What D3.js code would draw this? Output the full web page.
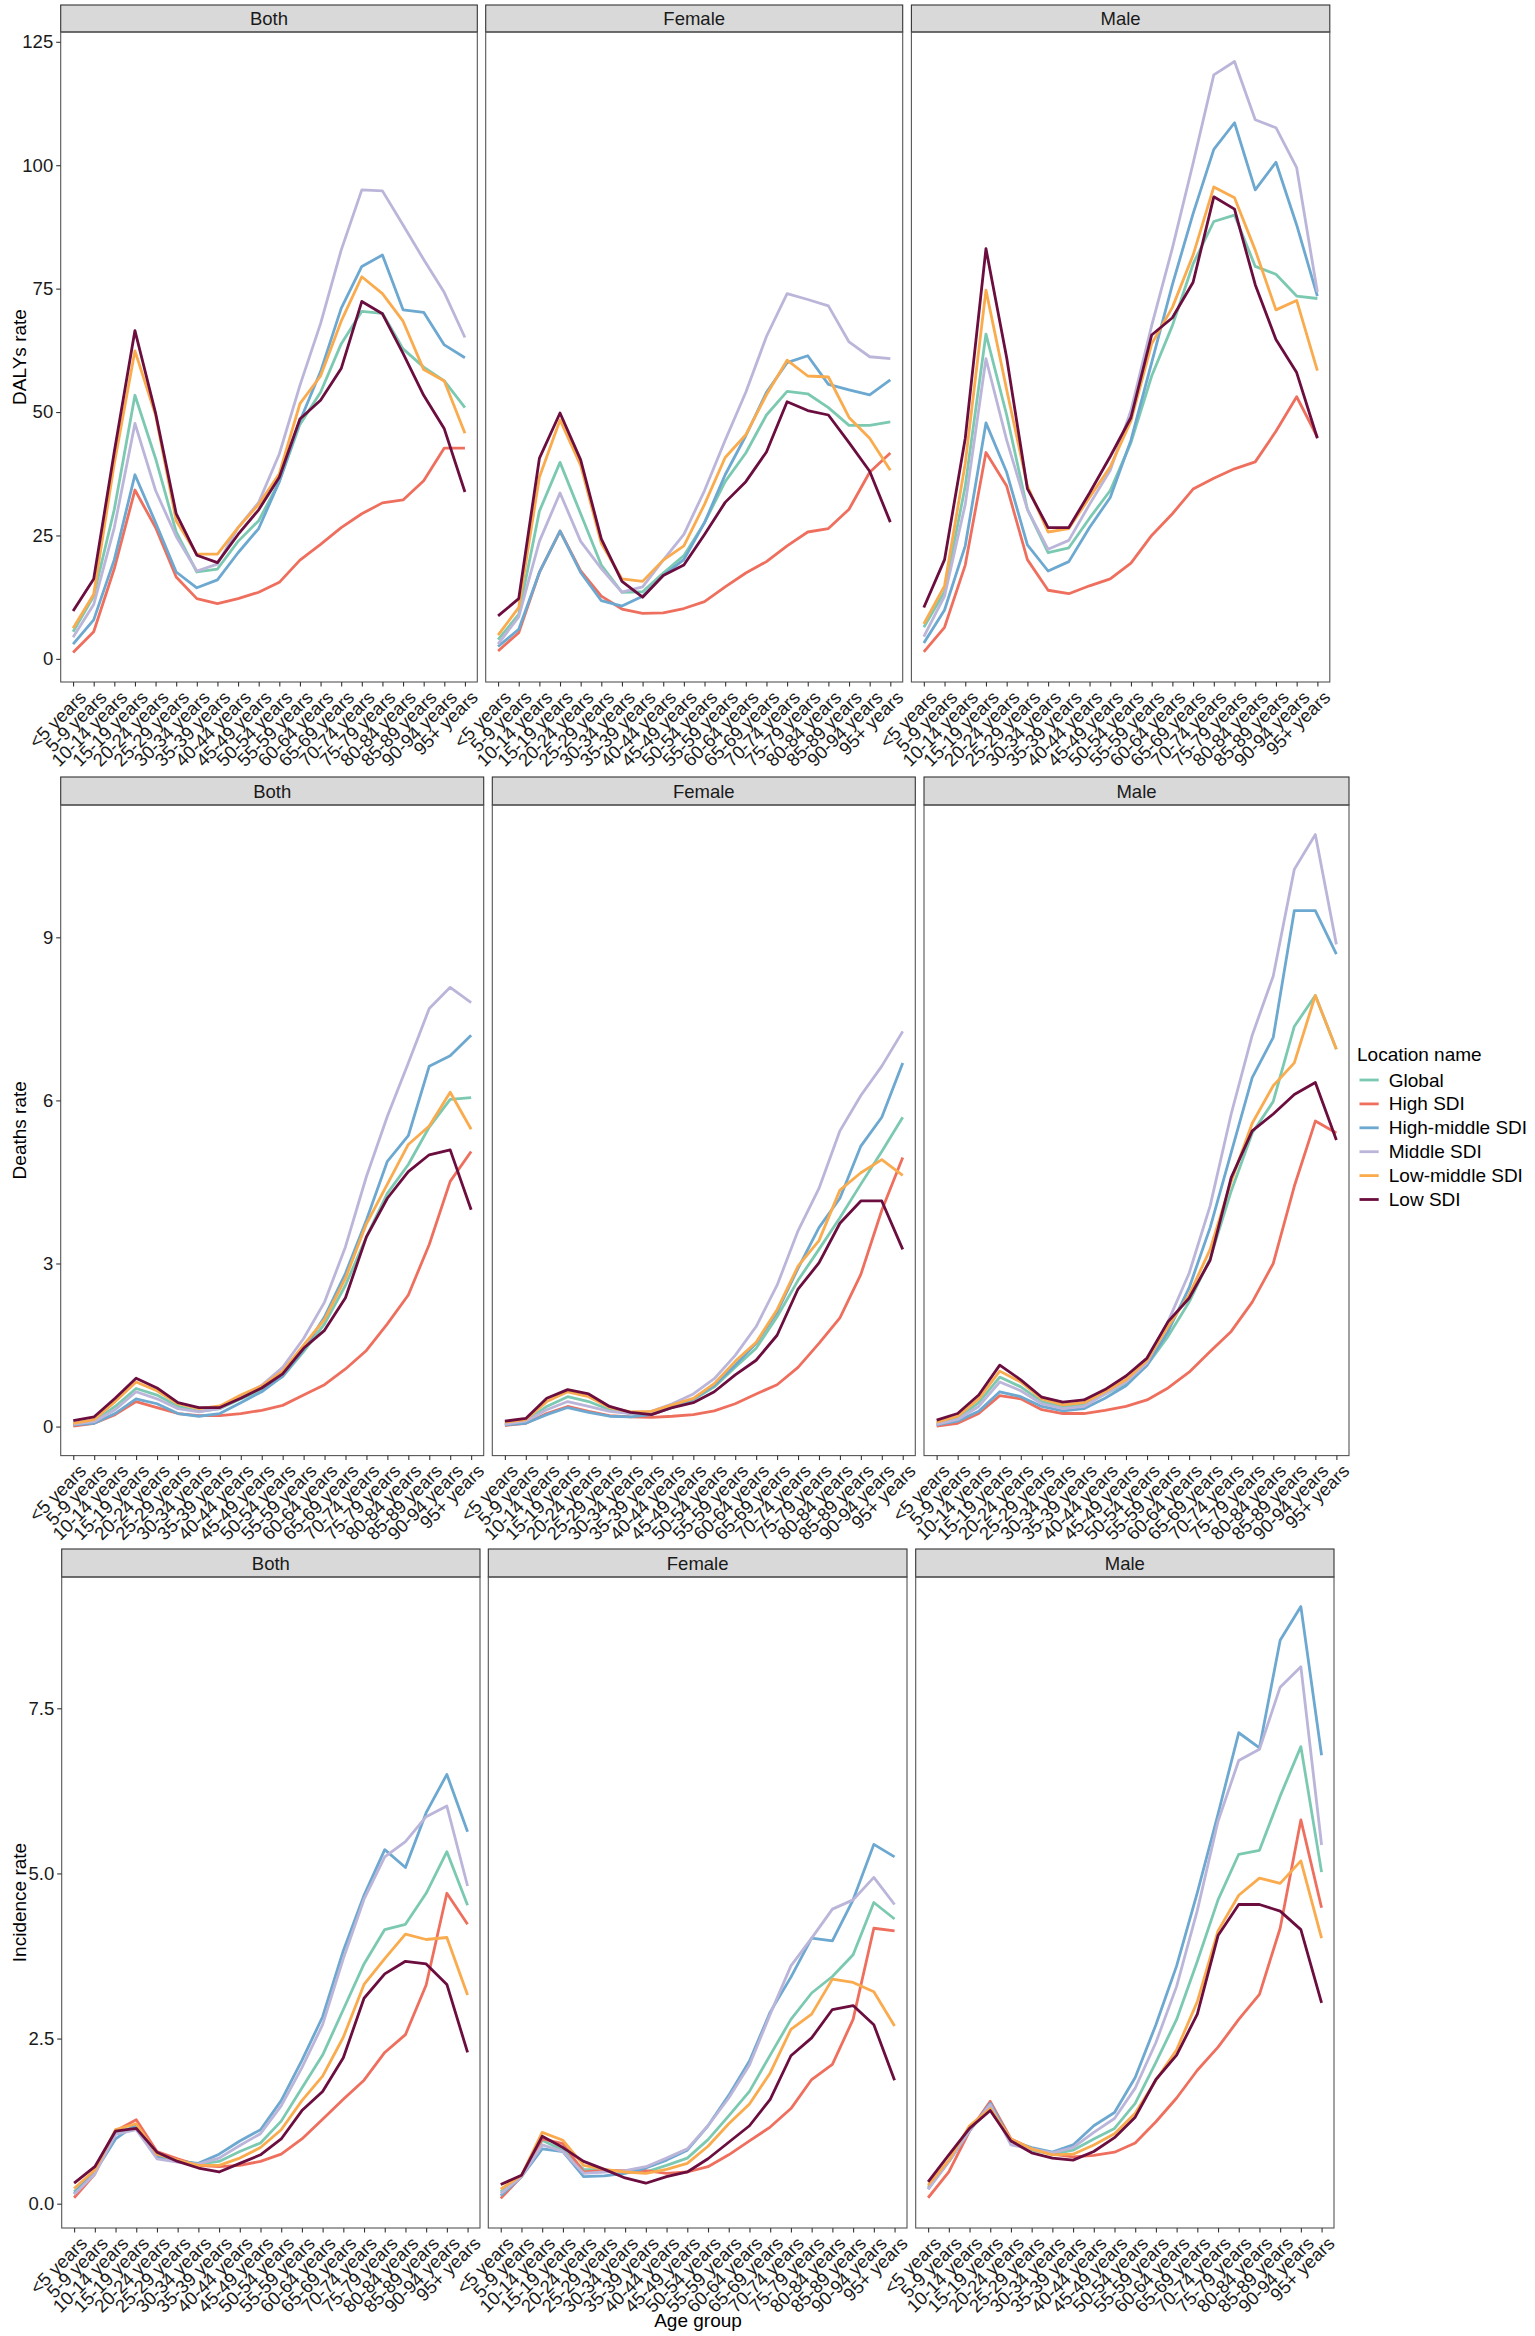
<!DOCTYPE html>
<html>
<head>
<meta charset="utf-8">
<script src="https://cdn.jsdelivr.net/npm/d3@7"></script>
<style>
  body { margin: 0; background: #fff; }
  svg { display: block; font-family: "Liberation Sans", Arial, Helvetica, sans-serif; }
</style>
</head>
<body>
<svg id="chart" width="1535" height="2336"></svg>
<script>
// ---------- categories ----------
const ageGroups = ["<5 years","5-9 years","10-14 years","15-19 years","20-24 years","25-29 years",
  "30-34 years","35-39 years","40-44 years","45-49 years","50-54 years","55-59 years","60-64 years",
  "65-69 years","70-74 years","75-79 years","80-84 years","85-89 years","90-94 years","95+ years"];
const locations = ["Global","High SDI","High-middle SDI","Middle SDI","Low-middle SDI","Low SDI"];
const sexes = ["Both","Female","Male"];
const locationColors = ["#7CC9B1","#EF6F5E","#6CA8D0","#BBB5DA","#F9AB4E","#6B0D3E"];

// ---------- tick labels ----------
const dalysTicks = [0,25,50,75,100,125];
const deathsTicks = [0,3,6,9];
const incidenceTicks = [0,2.5,5,7.5];

// ---------- series values (order = locations) ----------
const dalysBoth = [
  [5.5,12.7,30.3,53.4,40.6,25.7,17.6,18.2,23.8,28,35.9,47.5,54,63.8,70.4,70,62.8,59.1,56.3,50.9],
  [1.3,5.5,18.3,34.2,26.6,16.6,12.2,11.2,12.2,13.5,15.5,20,23.2,26.6,29.4,31.6,32.2,36.1,42.7,42.7],
  [3,7.9,20.1,37.3,27.6,17.6,14.4,16,21.5,26.4,35.9,48.2,58.2,71,79.5,81.8,70.7,70.2,63.6,61],
  [4.4,11,26.6,47.7,34.1,24.8,17.8,19.2,26.6,31.7,41.5,55.4,67.9,82.8,95,94.8,87.9,80.9,74.2,65.1],
  [6.2,13.1,39.6,62.4,49.4,28,21.2,21.2,26.6,31.3,37.5,51.7,57.3,68.4,77.4,74,68.4,58.6,56.3,45.7],
  [9.7,16.2,42,66.5,49.8,29.4,21,19.5,25.2,30.2,36.8,48.6,52.4,58.8,72.4,69.9,61.9,53.4,46.6,33.8]
];
const dalysFemale = [
  [3.9,9,29.9,39.8,29.4,19,13.5,13.6,17.4,20.9,27.6,35.9,41.7,49.4,54.2,53.7,50.9,47.3,47.3,48],
  [1.6,5.3,17.5,25.9,17.8,12.7,10.1,9.2,9.3,10.2,11.6,14.6,17.4,19.7,22.9,25.7,26.4,30.3,37.8,41.7],
  [2.5,6,17.5,25.9,17.5,11.8,10.7,12.7,16.9,20.1,27.6,37.3,45.2,54,60,61.4,55.6,54.5,53.5,56.5],
  [3,8.5,23.8,33.6,23.8,18.3,13.5,14.6,20,25.2,34.1,44.3,54,65.3,74,72.8,71.5,64.2,61.2,60.8],
  [4.8,10.4,36.8,48.4,39.2,23.4,16.2,15.7,20,22.9,31.3,40.8,45.4,53.5,60.5,57.3,57.1,48.9,44.7,38.2],
  [8.7,12.2,40.6,49.8,40.3,24.3,15.7,12.5,16.9,19,25.2,31.7,35.9,41.9,52.1,50.3,49.4,43.8,38,27.7]
];
const dalysMale = [
  [6.4,13.6,35,65.8,49.4,30.3,21.5,22.5,28.5,34.1,43.8,57.3,67.5,80,88.6,89.9,79.5,77.9,73.5,73],
  [1.4,6.4,19,41.8,35,20.1,13.9,13.2,14.8,16.2,19.4,25,29.4,34.4,36.6,38.5,39.9,46.1,53.1,44.9],
  [3.2,9.9,22.9,47.8,37.8,23.1,17.8,19.7,26.6,32.7,44.3,60,75.8,90.2,103.2,108.6,95,100.6,87.9,73.5],
  [4.5,12.7,31.3,60.8,44.3,30.3,22.2,24,31.3,38.2,50.3,67.5,83.2,100.4,118.3,121,109.2,107.6,99.5,74.3],
  [7.1,14.8,39.6,74.7,54.5,35,25.7,26.4,32.7,38.9,48.2,63.8,71.2,81.8,95.6,93.4,82.8,70.7,72.6,58.4],
  [10.4,20.1,44.7,83.1,61,34.5,26.6,26.6,33.6,41,48.9,65.6,69.1,76.3,93.6,91.1,75.8,64.7,58,44.7]
];
const deathsBoth = [
  [0.04,0.1,0.37,0.7,0.58,0.37,0.28,0.33,0.51,0.67,0.92,1.38,1.89,2.6,3.49,4.29,4.82,5.51,6.02,6.05],
  [0.01,0.06,0.22,0.46,0.35,0.24,0.2,0.2,0.24,0.3,0.39,0.58,0.77,1.06,1.4,1.89,2.42,3.35,4.51,5.06],
  [0.03,0.06,0.24,0.51,0.42,0.24,0.19,0.24,0.44,0.64,0.93,1.41,2.02,2.82,3.8,4.88,5.35,6.63,6.82,7.2],
  [0.04,0.09,0.31,0.64,0.51,0.33,0.27,0.33,0.55,0.76,1.09,1.62,2.29,3.31,4.6,5.71,6.69,7.69,8.08,7.8],
  [0.06,0.13,0.46,0.82,0.66,0.42,0.33,0.38,0.58,0.75,1.02,1.5,1.97,2.73,3.73,4.46,5.19,5.53,6.15,5.47],
  [0.11,0.18,0.52,0.89,0.71,0.44,0.35,0.35,0.52,0.71,0.97,1.44,1.77,2.37,3.49,4.2,4.69,5.0,5.09,3.99]
];
const deathsFemale = [
  [0.06,0.1,0.37,0.55,0.46,0.31,0.24,0.26,0.35,0.49,0.73,1.09,1.44,2.02,2.69,3.26,3.84,4.46,5.06,5.69],
  [0.02,0.06,0.24,0.37,0.28,0.2,0.18,0.17,0.19,0.22,0.29,0.42,0.6,0.77,1.09,1.53,2.0,2.8,3.98,4.95],
  [0.03,0.06,0.22,0.35,0.26,0.19,0.18,0.22,0.35,0.51,0.76,1.13,1.53,2.11,2.91,3.66,4.2,5.16,5.69,6.69],
  [0.04,0.1,0.31,0.46,0.37,0.28,0.24,0.28,0.42,0.6,0.88,1.31,1.84,2.6,3.6,4.38,5.44,6.09,6.63,7.27],
  [0.08,0.13,0.46,0.64,0.55,0.35,0.27,0.28,0.4,0.52,0.79,1.2,1.55,2.15,2.95,3.42,4.35,4.67,4.91,4.62],
  [0.1,0.15,0.52,0.68,0.6,0.37,0.26,0.22,0.35,0.44,0.64,0.95,1.22,1.68,2.53,3.01,3.74,4.15,4.15,3.26]
];
const deathsMale = [
  [0.06,0.15,0.44,0.91,0.73,0.46,0.36,0.4,0.6,0.79,1.13,1.66,2.29,3.09,4.33,5.4,5.98,7.36,7.93,6.94],
  [0.01,0.06,0.24,0.57,0.51,0.31,0.24,0.24,0.3,0.37,0.49,0.71,1.0,1.38,1.75,2.29,3.0,4.42,5.62,5.4],
  [0.03,0.1,0.28,0.64,0.55,0.37,0.29,0.33,0.52,0.75,1.13,1.75,2.55,3.66,5.04,6.42,7.16,9.49,9.49,8.69],
  [0.04,0.13,0.37,0.82,0.66,0.42,0.33,0.37,0.6,0.82,1.17,1.93,2.82,4.06,5.75,7.2,8.29,10.25,10.89,8.87],
  [0.08,0.19,0.51,1.02,0.82,0.51,0.4,0.44,0.64,0.86,1.22,1.84,2.42,3.26,4.51,5.58,6.27,6.69,7.93,6.94],
  [0.12,0.24,0.58,1.13,0.86,0.54,0.45,0.49,0.68,0.93,1.26,1.93,2.36,3.06,4.58,5.44,5.75,6.11,6.33,5.27]
];
const incidenceBoth = [
  [0.18,0.48,1.06,1.18,0.73,0.66,0.6,0.64,0.79,0.92,1.25,1.75,2.25,2.94,3.63,4.15,4.23,4.7,5.33,4.52],
  [0.09,0.45,1.1,1.27,0.79,0.68,0.58,0.56,0.58,0.64,0.75,0.98,1.28,1.58,1.87,2.29,2.56,3.31,4.7,4.23],
  [0.15,0.48,0.98,1.2,0.71,0.64,0.61,0.75,0.95,1.12,1.56,2.17,2.83,3.83,4.67,5.36,5.09,5.92,6.5,5.63],
  [0.14,0.45,1.05,1.12,0.68,0.63,0.6,0.69,0.88,1.06,1.48,2.06,2.71,3.71,4.61,5.25,5.48,5.86,6.02,4.81],
  [0.23,0.51,1.12,1.21,0.75,0.66,0.58,0.58,0.69,0.85,1.12,1.56,1.93,2.52,3.32,3.71,4.08,4.0,4.03,3.16],
  [0.31,0.56,1.1,1.14,0.78,0.64,0.54,0.48,0.61,0.74,0.98,1.41,1.7,2.21,3.11,3.48,3.67,3.63,3.32,2.29]
];
const incidenceFemale = [
  [0.18,0.42,0.96,0.81,0.52,0.51,0.48,0.48,0.58,0.69,0.97,1.33,1.7,2.25,2.79,3.19,3.44,3.77,4.56,4.31],
  [0.08,0.41,0.98,0.91,0.48,0.5,0.5,0.5,0.46,0.48,0.56,0.74,0.95,1.16,1.44,1.88,2.11,2.79,4.17,4.13],
  [0.12,0.41,0.83,0.79,0.41,0.42,0.46,0.54,0.66,0.81,1.18,1.64,2.16,2.9,3.43,4.02,3.98,4.6,5.44,5.25],
  [0.15,0.41,0.89,0.79,0.46,0.48,0.5,0.56,0.69,0.83,1.18,1.6,2.1,2.87,3.6,4.02,4.46,4.6,4.94,4.53],
  [0.22,0.43,1.08,0.96,0.58,0.52,0.48,0.46,0.52,0.61,0.87,1.21,1.51,1.98,2.64,2.87,3.4,3.35,3.21,2.69],
  [0.29,0.43,1.02,0.85,0.64,0.52,0.39,0.31,0.41,0.48,0.68,0.93,1.18,1.58,2.24,2.51,2.94,3.0,2.71,1.87]
];
const incidenceMale = [
  [0.25,0.64,1.14,1.48,0.95,0.81,0.75,0.81,0.98,1.14,1.52,2.14,2.79,3.67,4.6,5.29,5.35,6.17,6.92,5.02],
  [0.09,0.48,1.1,1.55,0.98,0.83,0.75,0.71,0.73,0.78,0.92,1.24,1.6,2.02,2.37,2.79,3.17,4.17,5.81,4.48],
  [0.22,0.64,1.1,1.52,0.95,0.85,0.78,0.89,1.18,1.38,1.91,2.71,3.6,4.71,5.9,7.13,6.9,8.53,9.04,6.79],
  [0.22,0.64,1.11,1.5,0.89,0.83,0.77,0.85,1.08,1.29,1.75,2.44,3.29,4.44,5.79,6.71,6.88,7.82,8.13,5.43],
  [0.28,0.66,1.18,1.44,0.98,0.83,0.74,0.75,0.89,1.06,1.37,1.87,2.33,3.06,4.13,4.67,4.93,4.85,5.19,4.02],
  [0.33,0.74,1.14,1.41,0.95,0.77,0.69,0.66,0.79,1.0,1.31,1.88,2.25,2.87,4.06,4.53,4.53,4.43,4.15,3.04]
];

// ---------- layout (positions only) ----------
const rows = [
  { title: "DALYs rate", series: [dalysBoth, dalysFemale, dalysMale], ticks: dalysTicks, fmt: d3.format("d"),
    stripTop: 5, panelTop: 32, panelBottom: 682,
    panels: [[60.7,477.3],[485.7,902.7],[911.4,1329.8]] },
  { title: "Deaths rate", series: [deathsBoth, deathsFemale, deathsMale], ticks: deathsTicks, fmt: d3.format("d"),
    stripTop: 777, panelTop: 805, panelBottom: 1455.6,
    panels: [[60.7,483.7],[492.3,915.3],[924,1349]] },
  { title: "Incidence rate", series: [incidenceBoth, incidenceFemale, incidenceMale], ticks: incidenceTicks, fmt: d3.format(".1f"),
    stripTop: 1549, panelTop: 1577, panelBottom: 2228,
    panels: [[61.7,480],[488.3,907],[915.7,1334]] }
];

const svg = d3.select("#chart");
svg.append("rect").attr("width", 1535).attr("height", 2336).attr("fill", "#fff");

const FS_TICK = 18.5, FS_STRIP = 18.5, FS_TITLE = 19;

rows.forEach((row, ri) => {
  const all = row.series.flat(2);
  const mn = d3.min(all), mx = d3.max(all), pad = (mx - mn) * 0.05;
  const y = d3.scaleLinear().domain([mn - pad, mx + pad]).range([row.panelBottom, row.panelTop]);

  row.panels.forEach((px, si) => {
    const x = d3.scalePoint().domain(ageGroups).range(px).padding(0.6);
    const g = svg.append("g");

    // strip
    g.append("rect").attr("x", px[0]).attr("y", row.stripTop)
      .attr("width", px[1] - px[0]).attr("height", row.panelTop - row.stripTop)
      .attr("fill", "#d9d9d9").attr("stroke", "#333").attr("stroke-width", 1.1);
    g.append("text").attr("x", (px[0] + px[1]) / 2).attr("y", (row.stripTop + row.panelTop) / 2)
      .attr("text-anchor", "middle").attr("dominant-baseline", "central")
      .attr("font-size", FS_STRIP).attr("fill", "#1a1a1a").text(sexes[si]);

    // lines
    const line = d3.line().x((d, i) => x(ageGroups[i])).y(d => y(d));
    row.series[si].forEach((vals, li) => {
      g.append("path").datum(vals).attr("d", line)
        .attr("fill", "none").attr("stroke", locationColors[li])
        .attr("stroke-width", 2.8).attr("stroke-linejoin", "round").attr("stroke-linecap", "butt");
    });

    // panel border
    g.append("rect").attr("x", px[0]).attr("y", row.panelTop)
      .attr("width", px[1] - px[0]).attr("height", row.panelBottom - row.panelTop)
      .attr("fill", "none").attr("stroke", "#555").attr("stroke-width", 1.1);

    // x axis
    const xa = g.append("g").attr("transform", `translate(0,${row.panelBottom})`)
      .call(d3.axisBottom(x).tickSize(4.5).tickSizeOuter(0));
    xa.select(".domain").remove();
    xa.selectAll(".tick line").attr("stroke", "#333").attr("stroke-width", 1.1);
    xa.selectAll(".tick text")
      .attr("font-size", FS_TICK).attr("fill", "#1a1a1a")
      .attr("text-anchor", "end").attr("dy", null).attr("y", null)
      .attr("transform", "translate(4,7) rotate(-45)")
      .attr("dominant-baseline", "hanging");

    // y axis (only first panel)
    if (si === 0) {
      const ya = g.append("g").attr("transform", `translate(${px[0]},0)`)
        .call(d3.axisLeft(y).tickValues(row.ticks).tickFormat(row.fmt).tickSize(4.5).tickPadding(3));
      ya.select(".domain").remove();
      ya.selectAll(".tick line").attr("stroke", "#333").attr("stroke-width", 1.1);
      ya.selectAll(".tick text").attr("font-size", FS_TICK).attr("fill", "#1a1a1a");
    }
  });

  // y title
  const cy = (row.panelTop + row.panelBottom) / 2;
  svg.append("text").attr("transform", `translate(19,${cy}) rotate(-90)`)
    .attr("text-anchor", "middle").attr("dominant-baseline", "central")
    .attr("font-size", FS_TITLE).attr("fill", "#000").text(row.title);
});

// x title
svg.append("text").attr("x", 698).attr("y", 2320)
  .attr("text-anchor", "middle").attr("dominant-baseline", "central")
  .attr("font-size", FS_TITLE).attr("fill", "#000").text("Age group");

// legend
const lg = svg.append("g");
lg.append("text").attr("x", 1357).attr("y", 1054).attr("dominant-baseline", "central")
  .attr("font-size", 19).attr("fill", "#000").text("Location name");
locations.forEach((name, i) => {
  const yy = 1080 + i * 23.9;
  lg.append("line").attr("x1", 1359.5).attr("x2", 1378.7).attr("y1", yy).attr("y2", yy)
    .attr("stroke", locationColors[i]).attr("stroke-width", 2.8);
  lg.append("text").attr("x", 1388.8).attr("y", yy).attr("dominant-baseline", "central")
    .attr("font-size", 19).attr("fill", "#000").text(name);
});
</script>
</body>
</html>
